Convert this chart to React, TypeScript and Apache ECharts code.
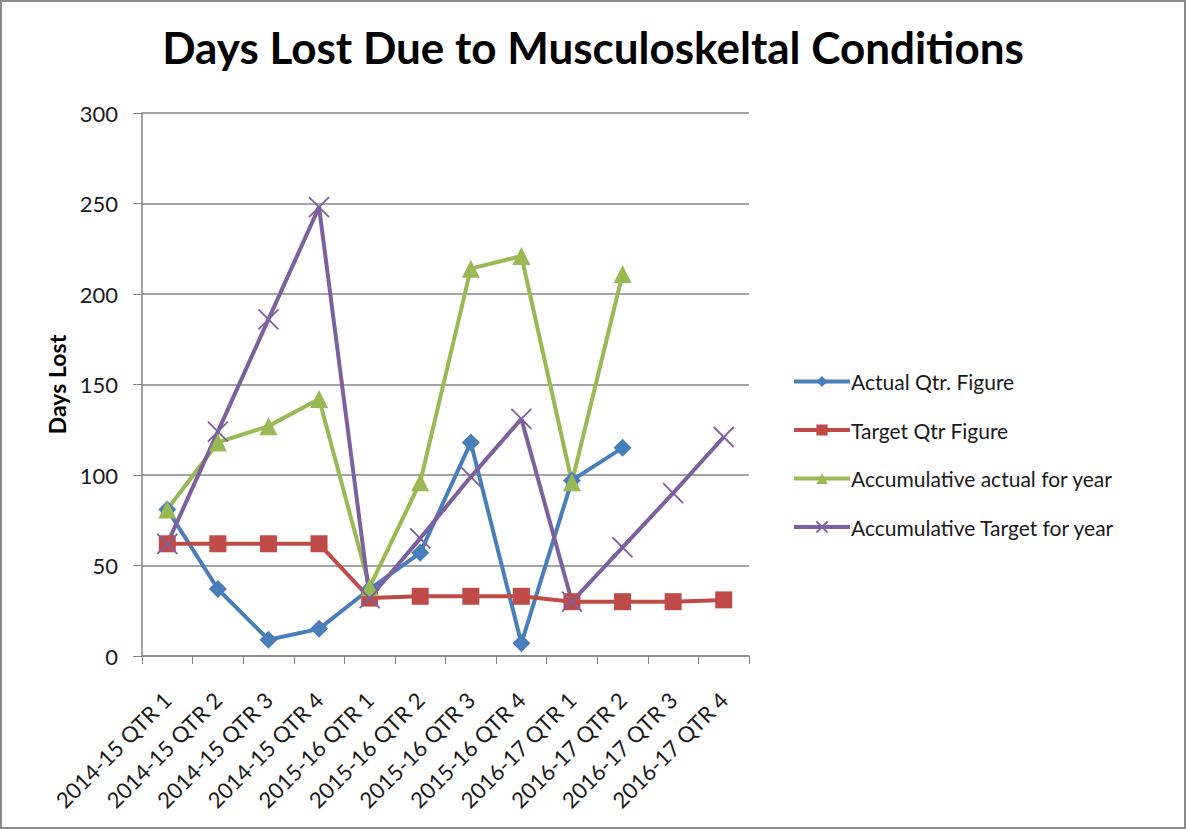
import React, { useEffect, useRef } from "react";
import * as echarts from "echarts";

const categories = [
  "2014-15 QTR 1", "2014-15 QTR 2", "2014-15 QTR 3", "2014-15 QTR 4",
  "2015-16 QTR 1", "2015-16 QTR 2", "2015-16 QTR 3", "2015-16 QTR 4",
  "2016-17 QTR 1", "2016-17 QTR 2", "2016-17 QTR 3", "2016-17 QTR 4",
];
const actualQtr = [81, 37, 9, 15, 37, 57, 118, 7, 97, 115, null, null];
const targetQtr = [62, 62, 62, 62, 32, 33, 33, 33, 30, 30, 30, 31];
const accumActual = [81, 118, 127, 142, 38, 96, 214, 221, 96, 211, null, null];
const accumTarget = [62, 124, 186, 248, 32, 65, 99, 131, 30, 60, 90, 121];
const yTicks = { min: 0, max: 300, interval: 50 };

const FONT = "Lato, 'Open Sans', sans-serif";
const CROSS = "path://M0,0L10,10M10,0L0,10";

export default function App() {
  const ref = useRef<HTMLDivElement>(null);
  useEffect(() => {
    if (!ref.current) return;
    const chart = echarts.init(ref.current, null, { renderer: "svg" });
    const mk = (name: string, data: any[], color: string, symbol: string, size: number, extra: any = {}) => ({
      name,
      type: "line",
      data,
      symbol,
      symbolSize: size,
      showAllSymbol: true,
      connectNulls: false,
      lineStyle: { color, width: 4 },
      itemStyle: { color, ...extra },
      emphasis: { disabled: true },
    });
    chart.setOption({
      animation: false,
      textStyle: { fontFamily: FONT },
      title: {
        text: "Days Lost Due to Musculoskeltal Conditions",
        left: "center",
        top: 20,
        textStyle: { fontFamily: FONT, fontSize: 44, fontWeight: "bold", color: "#000" },
      },
      grid: { left: 142, right: 437, top: 113, bottom: 173, containLabel: false },
      legend: {
        orient: "vertical",
        left: 787,
        top: 366,
        itemWidth: 56,
        itemHeight: 14,
        itemGap: 27.5,
        lineStyle: { width: 4 },
        textStyle: { fontFamily: FONT, fontSize: 21, color: "#1a1a1a", padding: [0, 0, 0, -4] },
        data: [
          "Actual Qtr. Figure",
          "Target Qtr Figure",
          "Accumulative actual for year",
          "Accumulative Target for year",
        ],
      },
      xAxis: {
        type: "category",
        data: categories,
        boundaryGap: true,
        axisLine: { lineStyle: { color: "#868686", width: 1.5 } },
        axisTick: { show: true, length: 8, lineStyle: { color: "#868686" } },
        axisLabel: {
          rotate: 45,
          interval: 0,
          fontSize: 22,
          color: "#1a1a1a",
          fontFamily: FONT,
          margin: 40,
        },
      },
      yAxis: {
        type: "value",
        min: yTicks.min,
        max: yTicks.max,
        interval: yTicks.interval,
        name: "Days Lost",
        nameLocation: "middle",
        nameGap: 74,
        nameRotate: 90,
        nameTextStyle: { fontFamily: FONT, fontSize: 23, fontWeight: "bold", color: "#000" },
        axisLine: { show: true, lineStyle: { color: "#868686", width: 1.5 } },
        axisTick: { show: true, inside: false, length: 9, lineStyle: { color: "#868686" } },
        splitLine: { lineStyle: { color: "#868686", width: 1.5 } },
        axisLabel: { fontSize: 22, color: "#1a1a1a", fontFamily: FONT, margin: 24 },
      },
      series: [
        mk("Actual Qtr. Figure", actualQtr, "#4A7EBB", "diamond", 18),
        mk("Target Qtr Figure", targetQtr, "#BE4B48", "rect", 17),
        mk("Accumulative actual for year", accumActual, "#98B954", "triangle", 18),
        mk("Accumulative Target for year", accumTarget, "#7D60A0", CROSS, 20, {
          borderColor: "#7D60A0",
          borderWidth: 1.8,
        }),
      ],
    });
    return () => chart.dispose();
  }, []);
  return (
    <div
      style={{
        position: "fixed",
        left: 0,
        top: 0,
        width: 1186,
        height: 829,
        boxSizing: "border-box",
        border: "2px solid #8c8c8c",
        background: "#fff",
      }}
    >
      <div ref={ref} style={{ position: "absolute", left: -2, top: -2, width: 1186, height: 829 }} />
    </div>
  );
}
